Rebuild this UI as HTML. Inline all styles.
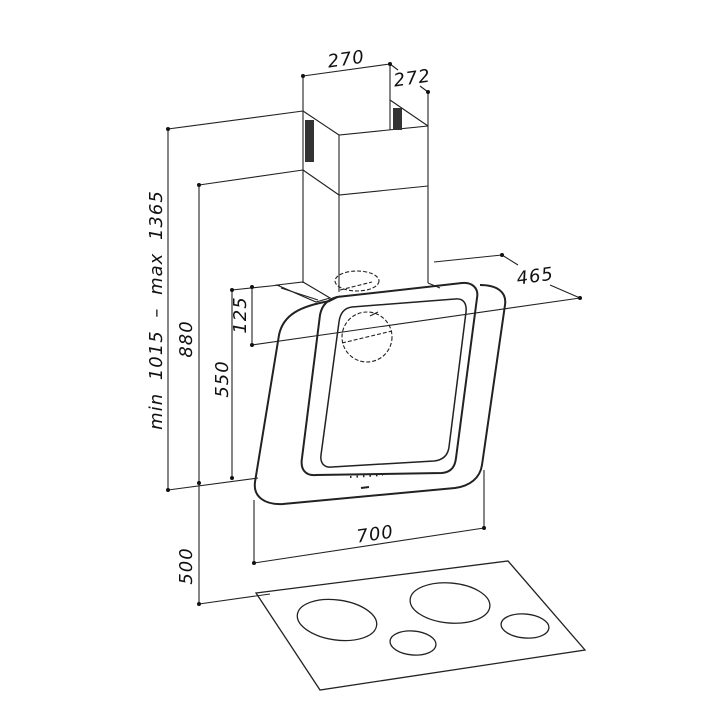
<!DOCTYPE html>
<html><head><meta charset="utf-8"><style>
html,body{margin:0;padding:0;background:#fff;}
svg{display:block;}
text{font-family:"DejaVu Sans","Liberation Sans",sans-serif;font-style:italic;font-size:18px;letter-spacing:1px;fill:#111;}
</style></head><body>
<svg width="720" height="720" viewBox="0 0 720 720" xmlns="http://www.w3.org/2000/svg">
<g fill="none" stroke="#222" stroke-width="1.1">
<!-- chimney -->
<line x1="303" y1="111" x2="303" y2="283"/>
<line x1="339" y1="135" x2="339" y2="292"/>
<line x1="428" y1="126" x2="428" y2="283"/>
<polyline points="303,111 339,135 428,126"/>
<polyline points="390,100 390,130"/>
<line x1="390" y1="100" x2="428" y2="126"/>
<polyline points="303,170 339,195 428,186"/>
<!-- top dims -->
<line x1="303" y1="76" x2="390" y2="64"/>
<line x1="303" y1="76" x2="303" y2="111"/>
<line x1="390" y1="64" x2="390" y2="100"/>
<line x1="390" y1="64" x2="398" y2="70"/>
<line x1="420" y1="86" x2="428" y2="92"/>
<line x1="428" y1="92" x2="428" y2="126"/>
<!-- left dims -->
<line x1="168" y1="129" x2="303" y2="111"/>
<line x1="168" y1="129" x2="168" y2="490"/>
<line x1="199" y1="185" x2="303" y2="170"/>
<line x1="199" y1="185" x2="199" y2="604"/>
<line x1="168" y1="490" x2="258" y2="478"/>
<line x1="232" y1="290" x2="232" y2="478"/>
<line x1="232" y1="290" x2="280" y2="285"/>
<line x1="252" y1="287" x2="252" y2="345"/>
<line x1="252" y1="345" x2="580" y2="298"/>
<line x1="199" y1="604" x2="270" y2="594"/>
<!-- 465 -->
<line x1="434" y1="262" x2="502" y2="255"/>
<line x1="502" y1="255" x2="518" y2="265"/>
<line x1="550" y1="285" x2="580" y2="298"/>
<!-- 700 -->
<line x1="254" y1="500" x2="254" y2="563"/>
<line x1="484" y1="470" x2="484" y2="528"/>
<line x1="254" y1="563" x2="484" y2="528"/>
<!-- flange -->
<polygon points="277,285 303,282 330,298 316,302"/>
<line x1="281" y1="288" x2="318" y2="300"/>
<line x1="428" y1="283" x2="440" y2="288"/>
<!-- hood outer panel -->
<path d="M330,301 C300,306 283,315 279,335 L255,482 C253,497 265,505 283,504 L455,488 C470,486 480,478 482,465 L505,305 C507,292 497,285 480,285" stroke-width="2"/>
<!-- bezel -->
<path d="M337,297 C327,300 322,305 320,315 L302,458 C300,470 306,476 316,475 L442,473 C452,472 455,466 456,458 L477,298 C479,288 472,282 462,283 Z" stroke-width="2"/>
<!-- glass -->
<path d="M352,307 C344,308 340,314 339,322 L321,455 C320,463 324,468 332,467 L434,461 C443,460 448,455 449,447 L466,312 C467,303 463,298 455,299 Z" stroke-width="1.5"/>
<line x1="330" y1="301" x2="340" y2="296" stroke-width="1.5"/>
<!-- dashed -->
<ellipse cx="357" cy="281" rx="22" ry="10" stroke-dasharray="4,2"/>
<line x1="340" y1="290" x2="372" y2="282" stroke-dasharray="4,2"/>
<circle cx="367" cy="337" r="25" stroke-dasharray="4,2"/>
<line x1="342" y1="343" x2="392" y2="331" stroke-dasharray="4,2"/>
<line x1="370" y1="316" x2="378" y2="312"/>
<!-- controls -->
<line x1="350" y1="477" x2="383" y2="475" stroke-dasharray="1.5,5" stroke-width="2"/>
<line x1="361" y1="488" x2="369" y2="487" stroke-width="2"/>
<!-- cooktop -->
<polygon points="256,593 508,561 585,650 320,690" stroke-width="1.3"/>
<g stroke-width="1.3">
<ellipse cx="337" cy="620" rx="40" ry="20" transform="rotate(8 337 620)"/>
<ellipse cx="450" cy="603" rx="40" ry="20" transform="rotate(5 450 603)"/>
<ellipse cx="413" cy="643" rx="23" ry="12" transform="rotate(5 413 643)"/>
<ellipse cx="525" cy="626" rx="24" ry="12" transform="rotate(5 525 626)"/>
</g>
</g>
<!-- vents -->
<rect x="305" y="120" width="9" height="42" fill="#333"/>
<rect x="393" y="108" width="9" height="22" fill="#333"/>
<!-- dots -->
<g fill="#111">
<circle cx="303" cy="76" r="2"/><circle cx="390" cy="64" r="2"/><circle cx="428" cy="92" r="2"/>
<circle cx="168" cy="129" r="2"/><circle cx="199" cy="185" r="2"/><circle cx="168" cy="490" r="2"/>
<circle cx="199" cy="483" r="2"/><circle cx="199" cy="604" r="2"/><circle cx="232" cy="290" r="2"/>
<circle cx="232" cy="478" r="2"/><circle cx="252" cy="287" r="2"/><circle cx="252" cy="345" r="2"/>
<circle cx="502" cy="255" r="2"/><circle cx="580" cy="298" r="2"/><circle cx="254" cy="563" r="2"/><circle cx="484" cy="528" r="2"/>
</g>
<!-- labels -->
<text x="347" y="65" text-anchor="middle" transform="rotate(-8 347 65)">270</text>
<text x="413" y="84" text-anchor="middle" transform="rotate(-8 413 84)">272</text>
<text x="536" y="282" text-anchor="middle" transform="rotate(-8 536 282)">465</text>
<text x="376" y="540" text-anchor="middle" transform="rotate(-8 376 540)">700</text>
<text x="0" y="0" text-anchor="middle" word-spacing="6" transform="translate(162 310) rotate(-90)">min 1015 – max 1365</text>
<text x="0" y="0" text-anchor="middle" transform="translate(192 339) rotate(-90)">880</text>
<text x="0" y="0" text-anchor="middle" transform="translate(192 566) rotate(-90)">500</text>
<text x="0" y="0" text-anchor="middle" transform="translate(228 379) rotate(-90)">550</text>
<text x="0" y="0" text-anchor="middle" transform="translate(246 315) rotate(-90)">125</text>
</svg>
</body></html>
